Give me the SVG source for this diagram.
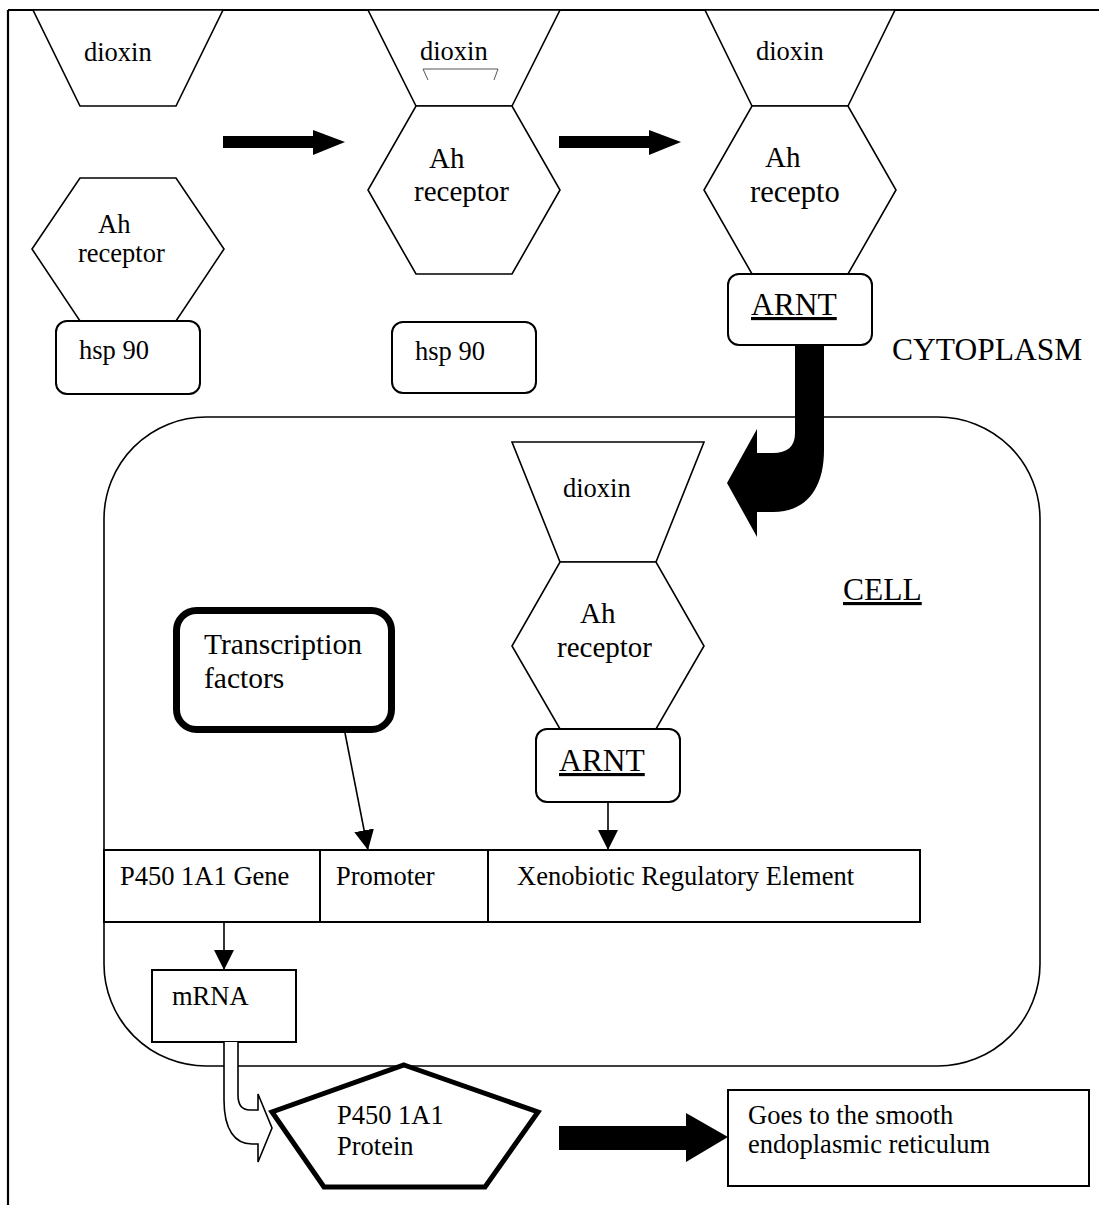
<svg xmlns="http://www.w3.org/2000/svg" width="1099" height="1205" viewBox="0 0 1099 1205">
<style>
  text { font-family: "Liberation Serif", "Times New Roman", serif; fill: #000; }
  .t { font-size: 26.5px; }
  .tl { font-size: 29px; }
  .tx { font-size: 30.5px; }
  .tb { font-size: 31.5px; }
  .shape { fill: #fff; stroke: #000; stroke-width: 1.6; }
  .box { fill: #fff; stroke: #000; stroke-width: 2; }
  .line { fill: none; stroke: #000; stroke-width: 1.6; }
  .solid { fill: #000; stroke: none; }
  .u { text-decoration: underline; }
</style>
<defs>
  <marker id="tri" viewBox="0 0 20 20" refX="20" refY="10" markerWidth="20" markerHeight="20" markerUnits="userSpaceOnUse" orient="auto">
    <path d="M0,0 L20,10 L0,20 Z" fill="#000"/>
  </marker>
</defs>
<rect width="1099" height="1205" fill="#fff"/>

<g id="frame">
  <line x1="8" y1="10" x2="1099" y2="10" stroke="#000" stroke-width="2.2"/>
  <line x1="8" y1="10" x2="8" y2="1205" stroke="#000" stroke-width="2.2"/>
</g>

<g id="cell">
  <rect x="104" y="417" width="936" height="649" rx="102" ry="102" fill="none" stroke="#000" stroke-width="1.6"/>
  <text x="843" y="600" class="tb u">CELL</text>
</g>

<g id="cytoplasm-label">
  <text x="892" y="360" class="tb">CYTOPLASM</text>
</g>

<!-- Stage 1 -->
<g id="dioxin-1">
  <polygon class="shape" points="33,10 223,10 176,106 80,106"/>
  <text x="84" y="61" class="t">dioxin</text>
</g>
<g id="ahr-1">
  <polygon class="shape" points="80,178 176,178 224,249 176,321 80,321 32,249"/>
  <text x="98" y="233" class="t">Ah</text>
  <text x="78" y="262" class="t">receptor</text>
</g>
<g id="hsp90-1">
  <rect class="box" x="56" y="321" width="144" height="73" rx="11"/>
  <text x="79" y="359" class="t">hsp 90</text>
</g>

<!-- Stage 2 -->
<g id="dioxin-2">
  <polygon class="shape" points="368,10 560,10 512,106 416,106"/>
  <text x="420" y="60" class="t">dioxin</text>
  <path d="M428,80 L423,69 L498,69 L494,80" fill="none" stroke="#555" stroke-width="1"/>
</g>
<g id="ahr-2">
  <polygon class="shape" points="416,106 512,106 560,190 512,274 416,274 368,190"/>
  <text x="429" y="168" class="tl">Ah</text>
  <text x="414" y="201" class="tl">receptor</text>
</g>
<g id="hsp90-2">
  <rect class="box" x="392" y="322" width="144" height="71" rx="11"/>
  <text x="415" y="360" class="t">hsp 90</text>
</g>

<!-- Stage 3 -->
<g id="dioxin-3">
  <polygon class="shape" points="705,10 895,10 848,106 752,106"/>
  <text x="756" y="60" class="t">dioxin</text>
</g>
<g id="ahr-3">
  <polygon class="shape" points="752,106 848,106 896,190 848,274 752,274 704,190"/>
  <text x="765" y="167" class="tl">Ah</text>
  <text x="750" y="202" class="tx">recepto</text>
</g>
<g id="arnt-1">
  <rect class="box" x="728" y="274" width="144" height="71" rx="11"/>
  <text x="751" y="315" class="tb u">ARNT</text>
</g>

<!-- Nucleus complex -->
<g id="dioxin-4">
  <polygon class="shape" points="512,442 704,442 656,562 560,562"/>
  <text x="563" y="497" class="t">dioxin</text>
</g>
<g id="ahr-4">
  <polygon class="shape" points="560,562 656,562 704,646 656,729 560,729 512,646"/>
  <text x="580" y="623" class="tl">Ah</text>
  <text x="557" y="657" class="tl">receptor</text>
</g>
<g id="arnt-2">
  <rect class="box" x="536" y="729" width="144" height="73" rx="11"/>
  <text x="559" y="771" class="tb u">ARNT</text>
</g>

<g id="transcription-factors">
  <rect x="176.5" y="610.5" width="215" height="119" rx="20" fill="#fff" stroke="#000" stroke-width="7"/>
  <text x="204" y="654" class="tl" style="font-size:29.5px">Transcription</text>
  <text x="204" y="688" class="tl" style="font-size:29.5px">factors</text>
</g>

<g id="gene">
  <rect class="box" x="104" y="850" width="816" height="72"/>
  <line x1="320" y1="850" x2="320" y2="922" stroke="#000" stroke-width="2"/>
  <line x1="488" y1="850" x2="488" y2="922" stroke="#000" stroke-width="2"/>
  <text x="120" y="885" class="t">P450 1A1 Gene</text>
  <text x="336" y="885" class="t">Promoter</text>
  <text x="517" y="885" class="t">Xenobiotic Regulatory Element</text>
</g>

<g id="mrna">
  <rect class="box" x="152" y="970" width="144" height="72"/>
  <text x="172" y="1005" class="t">mRNA</text>
</g>

<g id="protein">
  <polygon points="404,1065 538,1112 485,1187 324,1187 272,1112" fill="#fff" stroke="#000" stroke-width="5" stroke-linejoin="miter"/>
  <text x="337" y="1124" class="t">P450 1A1</text>
  <text x="337" y="1155" class="t">Protein</text>
</g>

<g id="ser">
  <rect class="box" x="728" y="1090" width="361" height="96"/>
  <text x="748" y="1124" class="t">Goes to the smooth</text>
  <text x="748" y="1153" class="t">endoplasmic reticulum</text>
</g>

<g id="connectors">
  <path class="solid" d="M223,136 L313,136 L313,130 L345,142 L313,155 L313,148 L223,148 Z"/>
  <path class="solid" d="M559,136 L649,136 L649,130 L681,142 L649,155 L649,148 L559,148 Z"/>
  <path class="solid" d="M795,345 L824,345 L824,450 C824,490 805,512 773,512 L757,512 L757,537 L727,483 L757,429 L757,453 L773,453 C787,453 795,447 795,433 Z"/>
  <line class="line" x1="345" y1="733" x2="368" y2="850" marker-end="url(#tri)"/>
  <line class="line" x1="608" y1="802" x2="608" y2="850" marker-end="url(#tri)"/>
  <line class="line" x1="224" y1="922" x2="224" y2="970" marker-end="url(#tri)"/>
  <path d="M224,1042 L224,1100 C224,1130 235,1144 252,1144 L258,1144 L258,1162 L272,1128 L258,1094 L258,1110 L250,1110 C242,1110 238,1105 238,1095 L238,1042" fill="#fff" stroke="#000" stroke-width="1.6" stroke-linejoin="miter"/>
  <path class="solid" d="M559,1126 L686,1126 L686,1113 L728,1137 L686,1162 L686,1150 L559,1150 Z"/>
</g>
</svg>
